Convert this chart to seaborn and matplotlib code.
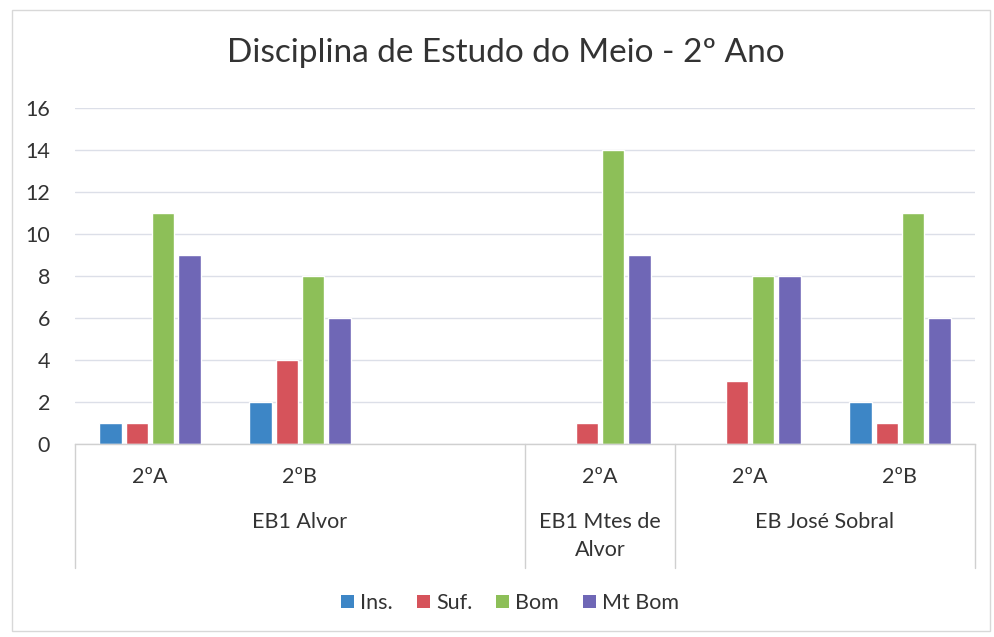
import numpy as np
import pandas as pd
import matplotlib
matplotlib.use("Agg")
import matplotlib.pyplot as plt
import matplotlib.transforms as mtransforms
from matplotlib.patches import Patch, Rectangle
import seaborn as sns

# ---- data ----
schools = ["EB1 Alvor", "EB1 Alvor", "EB1 Alvor", "EB1 Mtes de\nAlvor", "EB José Sobral", "EB José Sobral"]
classes = ["2ºA", "2ºB", "", "2ºA", "2ºA", "2ºB"]
series = ["Ins.", "Suf.", "Bom", "Mt Bom"]
ins_vals = [1, 2, np.nan, 0, 0, 2]
suf_vals = [1, 4, np.nan, 1, 3, 1]
bom_vals = [11, 8, np.nan, 14, 8, 11]
mtbom_vals = [9, 6, np.nan, 9, 8, 6]
title = "Disciplina de Estudo do Meio - 2º Ano"
yticks = [0, 2, 4, 6, 8, 10, 12, 14, 16]

colors = ["#3d86c6", "#d6535b", "#8dbf58", "#6f67b6"]

keys = [f"{i}|{s}|{c}" for i, (s, c) in enumerate(zip(schools, classes))]
rows = []
for name, vals in zip(series, [ins_vals, suf_vals, bom_vals, mtbom_vals]):
    for k, v in zip(keys, vals):
        rows.append({"slot": k, "Série": name, "Valor": v})
df = pd.DataFrame(rows)

sns.set_theme(style="white")
plt.rcParams["font.family"] = ["Lato", "DejaVu Sans"]

fig = plt.figure(figsize=(9.95, 6.37), dpi=100)
fig.patch.set_facecolor("white")
ax = fig.add_axes([75 / 995, 1 - 444 / 637, 900 / 995, 336 / 637])

sns.barplot(data=df, x="slot", y="Valor", hue="Série", order=keys, hue_order=series,
            palette=colors, width=0.7, gap=0.15, ax=ax, legend=False,
            saturation=1, errorbar=None)

ax.set_xlim(-0.5, len(keys) - 0.5)
ax.set_ylim(0, 16)
ax.set_yticks(yticks)
ax.set_yticklabels([str(t) for t in yticks], fontsize=15.5, color="#333333")
ax.tick_params(axis="y", length=0, pad=18)
ax.set_xticks([])
ax.set_xlabel("")
ax.set_ylabel("")
ax.grid(axis="y", color="#dcdfe8", linewidth=1)
ax.set_axisbelow(True)
for s in ["left", "right", "top"]:
    ax.spines[s].set_visible(False)
ax.spines["bottom"].set_color("#d0d0d0")
ax.spines["bottom"].set_linewidth(1)

trans = mtransforms.blended_transform_factory(ax.transData, ax.transAxes)
# class labels
for i, c in enumerate(classes):
    if c:
        ax.text(i, -0.098, c, transform=trans, ha="center", va="center", fontsize=15.5, color="#333333")
# school group labels
groups = []
for i, s in enumerate(schools):
    if groups and groups[-1][0] == s:
        groups[-1][2] = i
    else:
        groups.append([s, i, i])
for s, a, b in groups:
    xc = (a + b) / 2
    nlines = s.count("\n") + 1
    yc = -0.232 - 0.042 * (nlines - 1)
    ax.text(xc, yc, s, transform=trans, ha="center", va="center", fontsize=15.5,
            color="#333333", linespacing=1.45)
# dividers
bounds = [groups[0][1] - 0.5] + [g[2] + 0.5 for g in groups]
for bx in bounds:
    ax.plot([bx, bx], [0, -0.37], transform=trans, color="#d0d0d0", linewidth=1, clip_on=False)

fig.text(506 / 995, 1 - 53 / 637, title, ha="center", va="center", fontsize=24, color="#333333")

handles = [Patch(facecolor=c, edgecolor="none", label=n) for c, n in zip(colors, series)]
fig.legend(handles=handles, loc="center", bbox_to_anchor=(510 / 995, 1 - 603 / 637), ncol=4,
           frameon=False, fontsize=15.5, handlelength=0.6, handleheight=0.6, handletextpad=0.3,
           columnspacing=1.1, labelcolor="#333333")

fig.add_artist(Rectangle((12 / 995, 0.01), 978 / 995, 0.975, transform=fig.transFigure,
                         fill=False, edgecolor="#d8d8d8", linewidth=1))

fig.savefig("out.png", dpi=100)
